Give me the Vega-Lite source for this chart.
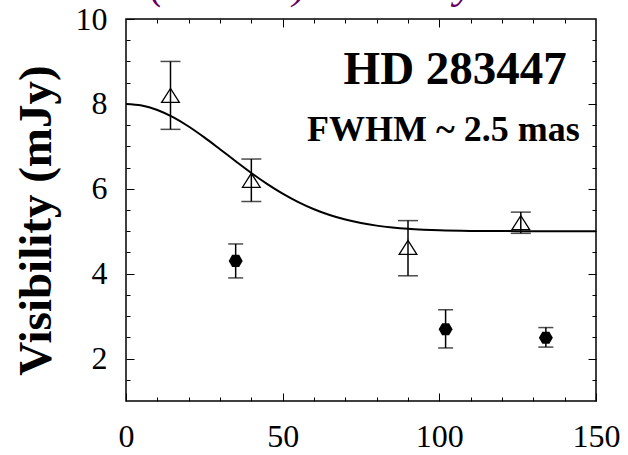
{
  "$schema": "https://vega.github.io/schema/vega-lite/v6.json",
  "autosize": {"type": "none"},
  "padding": {"left": 126, "top": 19, "right": 32, "bottom": 54},
  "width": 470,
  "height": 382,
  "background": "white",
  "config": {
    "view": {"stroke": "black", "strokeWidth": 1.5},
    "axis": {"domain": false, "grid": false, "tickColor": "black", "tickWidth": 1, "labelFont": "Liberation Serif", "labelFontSize": 32, "labelColor": "black"}
  },
  "datasets": {
    "curve": [
      {"b": 0, "v": 8.0}, {"b": 5, "v": 7.964}, {"b": 10, "v": 7.857}, {"b": 15, "v": 7.688},
      {"b": 20, "v": 7.468}, {"b": 25, "v": 7.211}, {"b": 30, "v": 6.933}, {"b": 35, "v": 6.65},
      {"b": 40, "v": 6.373}, {"b": 45, "v": 6.116}, {"b": 50, "v": 5.885}, {"b": 55, "v": 5.685},
      {"b": 60, "v": 5.517}, {"b": 65, "v": 5.381}, {"b": 70, "v": 5.274}, {"b": 75, "v": 5.192},
      {"b": 80, "v": 5.132}, {"b": 85, "v": 5.088}, {"b": 90, "v": 5.057}, {"b": 95, "v": 5.037},
      {"b": 100, "v": 5.023}, {"b": 110, "v": 5.008}, {"b": 120, "v": 5.003}, {"b": 130, "v": 5.001},
      {"b": 140, "v": 5.0}, {"b": 150, "v": 5.0}
    ],
    "tri": [
      {"b": 14.2, "v": 8.2, "lo": 7.4, "hi": 9.0},
      {"b": 40, "v": 6.2, "lo": 5.7, "hi": 6.7},
      {"b": 90, "v": 4.62, "lo": 3.95, "hi": 5.25},
      {"b": 126, "v": 5.2, "lo": 4.95, "hi": 5.45}
    ],
    "hex": [
      {"b": 35, "v": 4.3, "lo": 3.9, "hi": 4.7},
      {"b": 102, "v": 2.69, "lo": 2.25, "hi": 3.15},
      {"b": 134, "v": 2.49, "lo": 2.27, "hi": 2.73}
    ],
    "lab1": [{"b": 140.7, "v": 8.48, "t": "HD 283447"}],
    "lab2": [{"b": 144.8, "v": 7.12, "t": "FWHM ~ 2.5 mas"}],
    "top": [{"b": 7.6, "v": 10.5, "t": "(N band) Visibility"}]
  },
  "resolve": {"axis": {"x": "independent", "y": "independent"}},
  "layer": [
    {
      "data": {"name": "curve"},
      "mark": {"type": "line", "color": "black", "strokeWidth": 2, "interpolate": "monotone"},
      "encoding": {
        "x": {"field": "b", "type": "quantitative", "scale": {"domain": [0, 150], "nice": false, "zero": false},
          "axis": {"orient": "bottom", "values": [0, 50, 100, 150], "tickSize": -8, "labelPadding": 28, "title": null, "labelFlush": false}},
        "y": {"field": "v", "type": "quantitative", "scale": {"domain": [1, 10], "nice": false, "zero": false},
          "axis": {"orient": "left", "values": [2, 4, 6, 8, 10], "tickSize": -8, "labelPadding": 27, "labelFlush": false,
            "title": "Visibility (mJy)", "titleFont": "Liberation Serif", "titleFontWeight": "bold", "titleFontSize": 47, "titleColor": "black",
            "titleAngle": -90, "titleAlign": "center", "titleBaseline": "alphabetic", "titleX": -76, "titleY": 201}}
      }
    },
    {
      "data": {"name": "tri"},
      "mark": {"type": "rule", "color": "black", "strokeWidth": 1.5},
      "encoding": {
        "x": {"field": "b", "type": "quantitative", "axis": {"orient": "bottom", "values": [10, 20, 30, 40, 60, 70, 80, 90, 110, 120, 130, 140], "tickSize": -4, "labels": false, "title": null}},
        "y": {"field": "lo", "type": "quantitative", "axis": {"orient": "left", "values": [1.5, 2.5, 3, 3.5, 4.5, 5, 5.5, 6.5, 7, 7.5, 8.5, 9, 9.5], "tickSize": -4, "labels": false, "title": null}},
        "y2": {"field": "hi"}
      }
    },
    {
      "data": {"name": "hex"},
      "mark": {"type": "rule", "color": "black", "strokeWidth": 1.5},
      "encoding": {
        "x": {"field": "b", "type": "quantitative", "axis": {"orient": "top", "values": [50, 100], "tickSize": -8, "labels": false, "title": null}},
        "y": {"field": "lo", "type": "quantitative", "axis": {"orient": "right", "values": [2, 4, 6, 8], "tickSize": -8, "labels": false, "title": null}},
        "y2": {"field": "hi"}
      }
    },
    {
      "data": {"name": "tri"},
      "mark": {"type": "tick", "orient": "horizontal", "color": "black", "size": 20, "thickness": 1.5},
      "encoding": {
        "x": {"field": "b", "type": "quantitative", "axis": {"orient": "top", "values": [10, 20, 30, 40, 60, 70, 80, 90, 110, 120, 130, 140], "tickSize": -4, "labels": false, "title": null}},
        "y": {"field": "hi", "type": "quantitative", "axis": {"orient": "right", "values": [1.5, 2.5, 3, 3.5, 4.5, 5, 5.5, 6.5, 7, 7.5, 8.5, 9, 9.5], "tickSize": -4, "labels": false, "title": null}}
      }
    },
    {
      "data": {"name": "tri"},
      "mark": {"type": "tick", "orient": "horizontal", "color": "black", "size": 20, "thickness": 1.5},
      "encoding": {
        "x": {"field": "b", "type": "quantitative", "axis": null},
        "y": {"field": "lo", "type": "quantitative", "axis": null}
      }
    },
    {
      "data": {"name": "hex"},
      "mark": {"type": "tick", "orient": "horizontal", "color": "black", "size": 15, "thickness": 1.5},
      "encoding": {
        "x": {"field": "b", "type": "quantitative", "axis": null},
        "y": {"field": "hi", "type": "quantitative", "axis": null}
      }
    },
    {
      "data": {"name": "hex"},
      "mark": {"type": "tick", "orient": "horizontal", "color": "black", "size": 15, "thickness": 1.5},
      "encoding": {
        "x": {"field": "b", "type": "quantitative", "axis": null},
        "y": {"field": "lo", "type": "quantitative", "axis": null}
      }
    },
    {
      "data": {"name": "tri"},
      "mark": {"type": "point", "shape": "M-1,0.79L0,-0.79L1,0.79Z", "filled": false, "stroke": "black", "strokeWidth": 1.3, "size": 313, "opacity": 1},
      "encoding": {
        "x": {"field": "b", "type": "quantitative", "axis": null},
        "y": {"field": "v", "type": "quantitative", "axis": null}
      }
    },
    {
      "data": {"name": "hex"},
      "mark": {"type": "point", "shape": "M-1,0L-0.5,-0.866L0.5,-0.866L1,0L0.5,0.866L-0.5,0.866Z", "filled": true, "color": "black", "size": 196, "opacity": 1},
      "encoding": {
        "x": {"field": "b", "type": "quantitative", "axis": null},
        "y": {"field": "v", "type": "quantitative", "axis": null}
      }
    },
    {
      "data": {"name": "lab1"},
      "mark": {"type": "text", "align": "right", "baseline": "alphabetic", "font": "Liberation Serif", "fontWeight": "bold", "fontSize": 47, "color": "black"},
      "encoding": {
        "x": {"field": "b", "type": "quantitative", "axis": null},
        "y": {"field": "v", "type": "quantitative", "axis": null},
        "text": {"field": "t"}
      }
    },
    {
      "data": {"name": "lab2"},
      "mark": {"type": "text", "align": "right", "baseline": "alphabetic", "font": "Liberation Serif", "fontWeight": "bold", "fontSize": 36, "color": "black"},
      "encoding": {
        "x": {"field": "b", "type": "quantitative", "axis": null},
        "y": {"field": "v", "type": "quantitative", "axis": null},
        "text": {"field": "t"}
      }
    },
    {
      "data": {"name": "top"},
      "mark": {"type": "text", "align": "left", "baseline": "alphabetic", "font": "Liberation Serif", "fontStyle": "italic", "fontSize": 44, "color": "#660066", "clip": false},
      "encoding": {
        "x": {"field": "b", "type": "quantitative", "axis": null},
        "y": {"field": "v", "type": "quantitative", "axis": null},
        "text": {"field": "t"}
      }
    }
  ]
}
